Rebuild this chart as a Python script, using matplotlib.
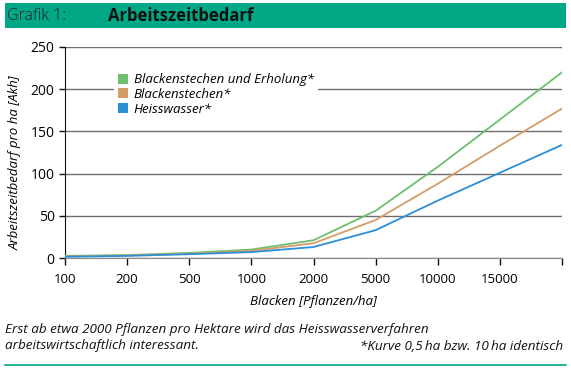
import matplotlib
matplotlib.use("Agg")
import matplotlib.pyplot as plt
from matplotlib.patches import Rectangle
from matplotlib.lines import Line2D

plt.rcParams['font.family'] = ['Open Sans', 'DejaVu Sans']

categories = ["100", "200", "500", "1000", "2000", "5000", "10000", "15000", ""]
green_vals = [2.5, 3.5, 6, 10, 21, 56, 108, 164, 220]
orange_vals = [2, 3, 5, 8.5, 17.5, 45, 88, 133, 177]
blue_vals = [1.5, 2.5, 4.5, 7, 13, 33, 68, 101, 134]
series_names = ["Blackenstechen und Erholung*", "Blackenstechen*", "Heisswasser*"]
yticks = [0, 50, 100, 150, 200, 250]

teal = "#00A886"
c_green = "#6DBE6D"
c_orange = "#D49C68"
c_blue = "#2B8FD6"

W, H = 571, 374
fig = plt.figure(figsize=(W / 100, H / 100), dpi=100)

# title bar
fig.patches.append(Rectangle((5 / W, 1 - 28 / H), 561 / W, 25 / H, transform=fig.transFigure,
                             facecolor=teal, edgecolor='none', zorder=0))
fig.text(7 / W, 1 - 16 / H, "Grafik 1:", fontsize=11.5, fontweight='light', color="#222222",
         va='center', ha='left')
fig.text(108 / W, 1 - 16 / H, "Arbeitszeitbedarf", fontsize=12, fontweight='bold',
         color="#111111", va='center', ha='left')

# axes
left, right, top, bottom = 65, 562, 47, 258
ax = fig.add_axes([left / W, 1 - bottom / H, (right - left) / W, (bottom - top) / H])
x = list(range(len(categories)))
ax.plot(x, green_vals, color=c_green, lw=1.3, zorder=3)
ax.plot(x, orange_vals, color=c_orange, lw=1.3, zorder=3)
ax.plot(x, blue_vals, color=c_blue, lw=1.3, zorder=3)

ax.set_xlim(0, len(categories) - 1)
ax.set_ylim(0, 250)
ax.set_xticks(x)
ax.set_xticklabels(categories)
ax.set_yticks(yticks)
ax.yaxis.grid(True, color="#6e6e6e", lw=1.0)
ax.set_axisbelow(True)
for s in ['top', 'right']:
    ax.spines[s].set_visible(False)
ax.spines['left'].set_color('#111111')
ax.spines['bottom'].set_color('#888888')
ax.tick_params(axis='x', direction='out', length=5, width=1, color='#111111', labelsize=9.5, pad=6)
ax.tick_params(axis='y', direction='out', length=4, width=1, color='#111111', labelsize=10)
ax.set_ylabel("Arbeitszeitbedarf pro ha [Akh]", fontsize=9.5, style='italic')
ax.yaxis.set_label_coords(-0.087, 0.45)
ax.set_xlabel("Blacken [Pflanzen/ha]", fontsize=9.5, style='italic', labelpad=6)

handles = [Rectangle((0, 0), 1, 1, facecolor=c, edgecolor='none') for c in (c_green, c_orange, c_blue)]
leg = ax.legend(handles, series_names, loc='upper left', bbox_to_anchor=(0.085, 0.925),
                frameon=True, fancybox=False, framealpha=1, edgecolor='none', facecolor='white',
                prop={'style': 'italic', 'size': 9.5}, handlelength=0.8, handleheight=0.8,
                handletextpad=0.4, labelspacing=0.12, borderpad=0.3)

# caption
cap_fs = 9.7
fig.text(5 / W, 1 - 330 / H, "Erst ab etwa 2000 Pflanzen pro Hektare wird das Heisswasserverfahren",
         fontsize=cap_fs, style='italic', va='center', ha='left', color="#111111")
fig.text(5 / W, 1 - 346 / H, "arbeitswirtschaftlich interessant.",
         fontsize=cap_fs, style='italic', va='center', ha='left', color="#111111")
fig.text(563 / W, 1 - 346 / H, "*Kurve 0,5\u2009ha bzw. 10\u2009ha identisch",
         fontsize=cap_fs, style='italic', va='center', ha='right', color="#111111")
fig.lines.append(Line2D([5 / W, 566 / W], [1 - 365 / H, 1 - 365 / H], transform=fig.transFigure,
                        color=teal, lw=1.2))

fig.savefig("out.png", dpi=100)
